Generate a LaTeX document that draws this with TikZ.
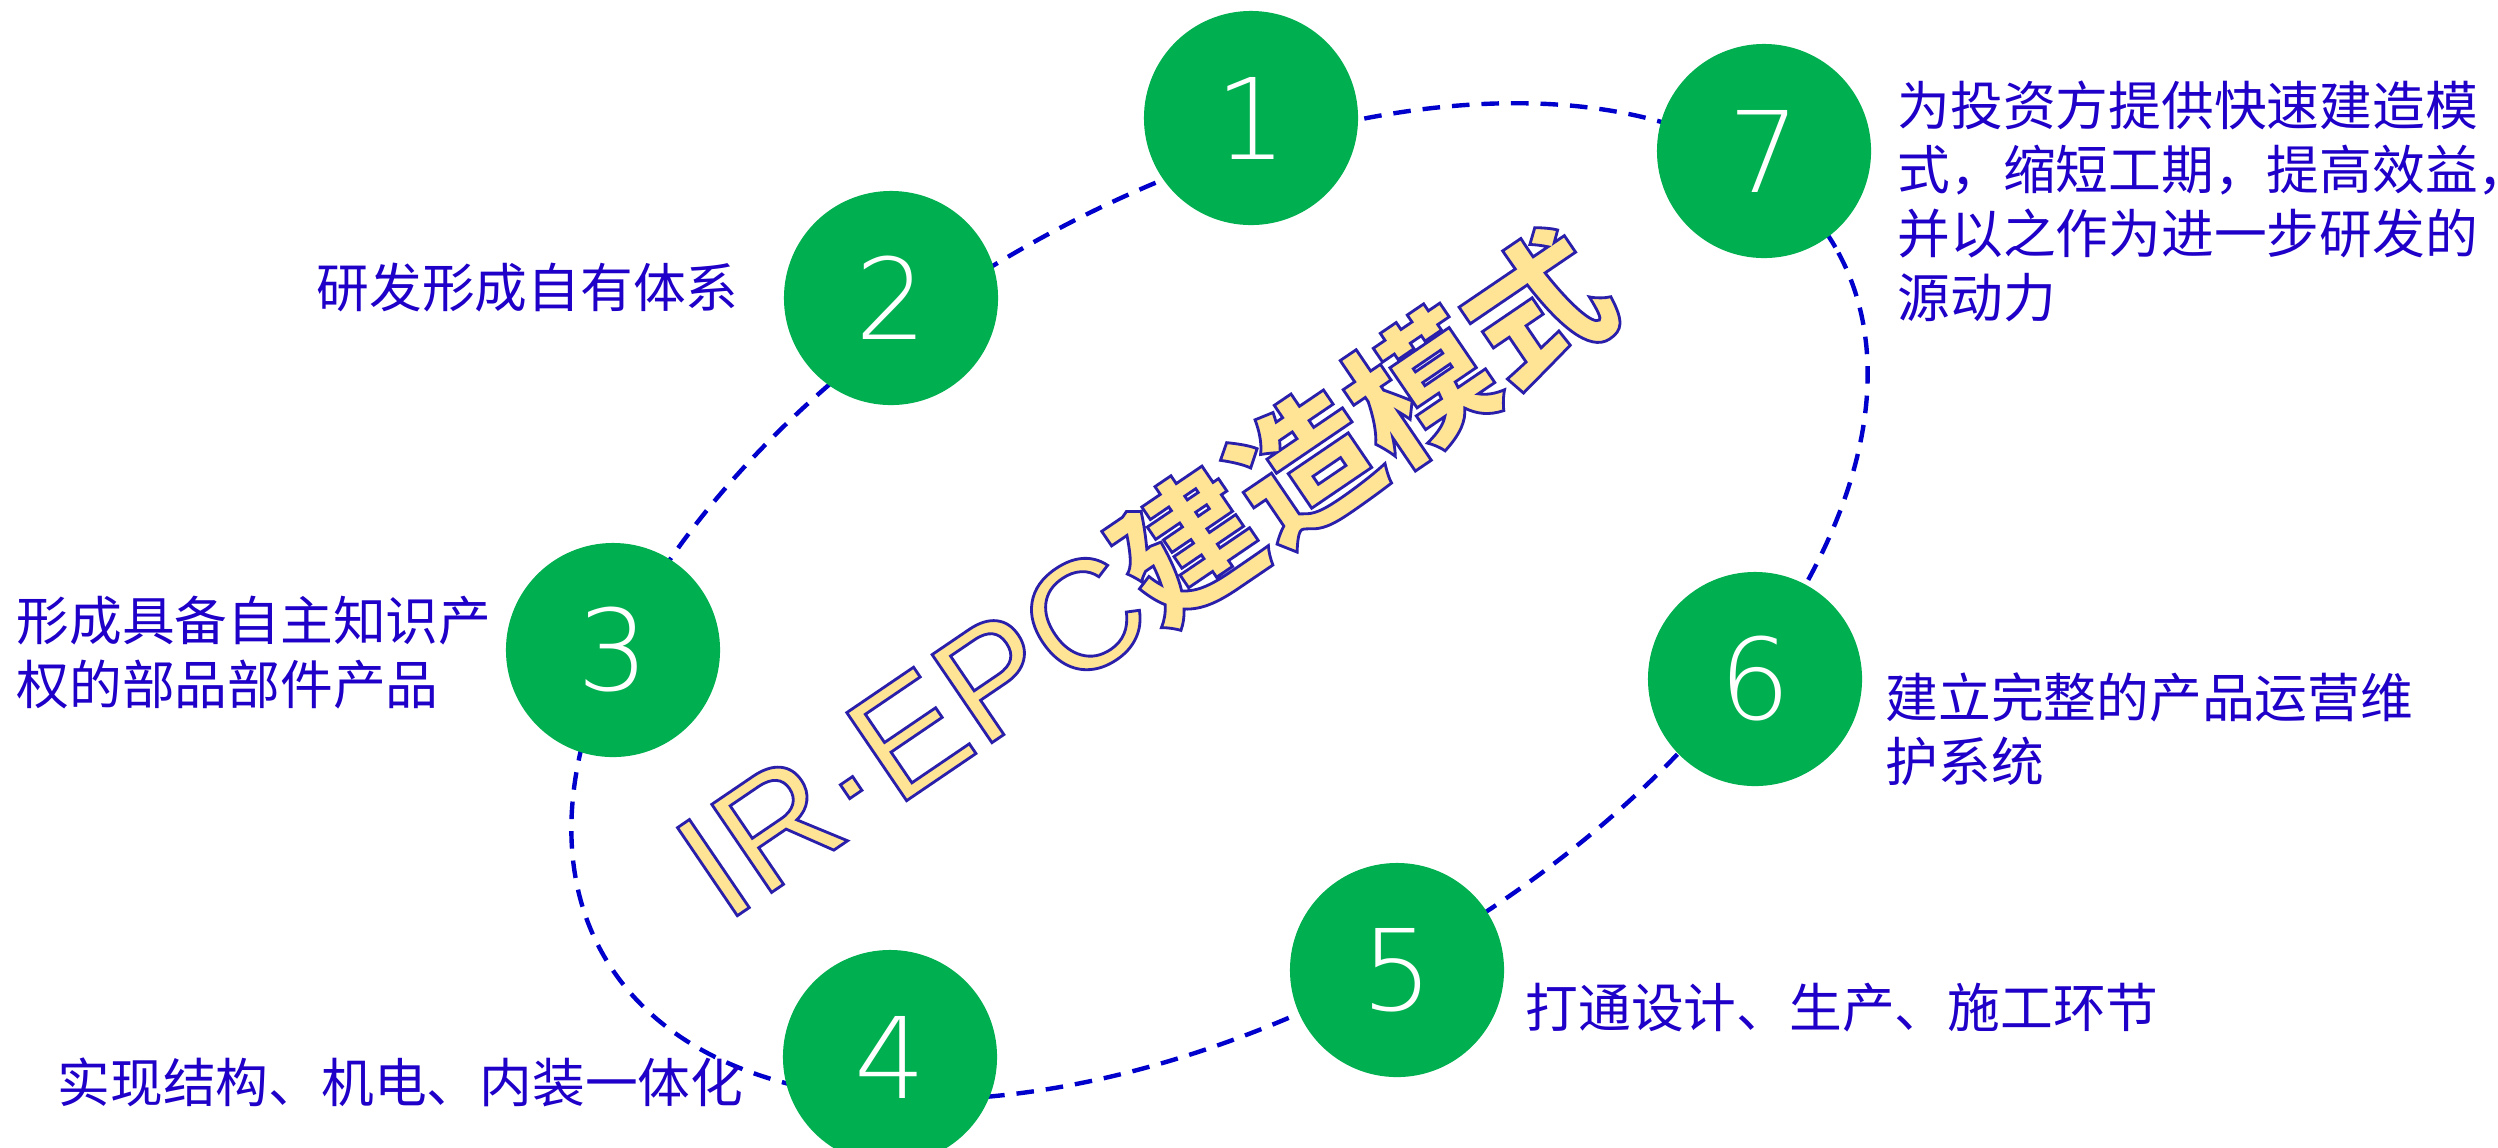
\documentclass[tikz,border=0pt]{standalone}
\usepackage{fontspec}
\usetikzlibrary{shapes.geometric}
\newfontfamily\cjk{Noto Sans CJK SC}
\newfontfamily\latinart{Liberation Sans}
\IfFontExistsTF{DejaVu Sans ExtraLight}{\newfontfamily\numfont{DejaVu Sans ExtraLight}}{\newfontfamily\numfont{DejaVu Sans}}
\definecolor{dotgreen}{RGB}{0,176,80}
\definecolor{labelblue}{RGB}{30,0,200}
\definecolor{ringblue}{RGB}{0,0,204}
\definecolor{artfill}{RGB}{255,228,150}
\newcommand\outlinedtext[1]{\special{pdf:literal direct 2 Tr 0.8 w 0.16 0.12 0.67 RG}#1\special{pdf:literal direct 0 Tr}}
\tikzset{
  loopring/.style={draw=ringblue, line width=1.25pt, dash pattern=on 5pt off 3.4pt, ellipse, inner sep=0pt, minimum width=14.2cm, minimum height=8.08cm, rotate=29.9},
  numdot/.style={circle, fill=dotgreen, minimum size=2.14cm, inner sep=0pt, text=white, font=\numfont\fontsize{32pt}{32pt}\selectfont},
  note/.style={anchor=west, inner sep=0pt, text=labelblue, align=left, font=\cjk\fontsize{15pt}{18.2pt}\selectfont},
  wordart/.style={inner sep=0pt, text=artfill, rotate=34.2}
}
\begin{document}
\begin{tikzpicture}[x=0.01cm, y=0.01cm]
\useasboundingbox[fill=white] (0,0) rectangle (2498,-1147);
\node[loopring] (ring) at (1219.5,-601.4) {};
\node[numdot] (c1) at (1251,-118) {1};
\node[numdot] (c2) at (891,-298) {2};
\node[numdot] (c3) at (613,-650) {3};
\node[numdot] (c4) at (890,-1057) {4};
\node[numdot] (c5) at (1397,-970) {5};
\node[numdot] (c6) at (1755,-679) {6};
\node[numdot] (c7) at (1764,-151) {7};
\node[note] (t2) at (316,-288) {研发形成自有体系};
\node[note] (t3) at (16,-653) {形成具备自主知识产\\权的部品部件产品};
\node[note] (t4) at (57,-1082) {实现结构、机电、内装一体化};
\node[note] (t5) at (1525,-1008) {打通设计、生产、施工环节};
\node[note] (t6) at (1885,-729) {建立完整的产品运营维\\护系统};
\node[note] (t7) at (1897,-201) {为投资方提供快速建造模\\式，缩短工期，提高效益，\\并以之作为进一步研发的\\源动力};
\node[wordart] (title) at (1145,-574) {\outlinedtext{{\latinart\fontsize{44pt}{50pt}\selectfont IR·EPC}{\cjk\bfseries\fontsize{40pt}{50pt}\selectfont 建造模式}}};
\end{tikzpicture}
\end{document}
